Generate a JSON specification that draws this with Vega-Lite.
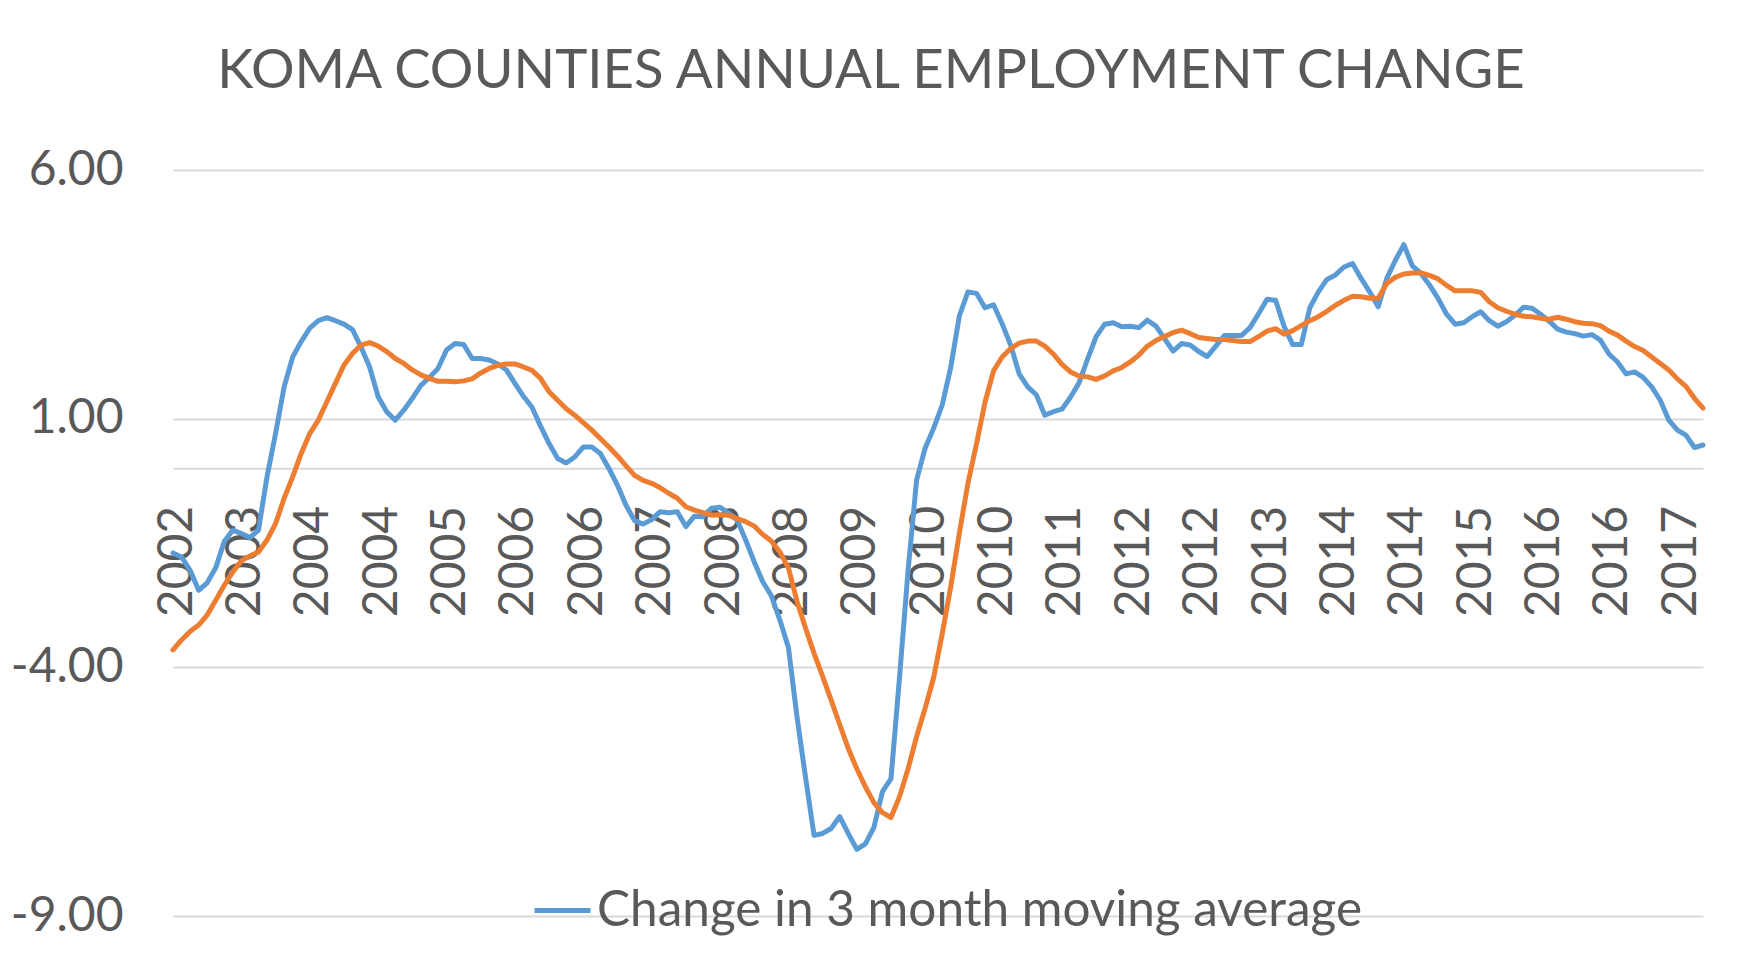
{
  "$schema": "https://vega.github.io/schema/vega-lite/v6.json",
  "width": 1530,
  "height": 746,
  "autosize": {"type": "none"},
  "padding": {"left": 173, "top": 170, "right": 37, "bottom": 46},
  "background": "white",
  "title": {
    "text": "KOMA COUNTIES ANNUAL EMPLOYMENT CHANGE",
    "font": "Lato",
    "fontSize": 54.5,
    "fontWeight": "normal",
    "color": "#595959",
    "anchor": "middle",
    "dx": -67,
    "offset": 4,
    "baseline": "alphabetic"
  },
  "data": {
    "values": [
      {"m": "2002-09", "a": -1.70, "b": -3.65},
      {"m": "2002-10", "a": -1.78, "b": -3.45},
      {"m": "2002-11", "a": -2.05, "b": -3.28},
      {"m": "2002-12", "a": -2.45, "b": -3.15},
      {"m": "2003-01", "a": -2.30, "b": -2.95},
      {"m": "2003-02", "a": -2.00, "b": -2.65},
      {"m": "2003-03", "a": -1.47, "b": -2.35},
      {"m": "2003-04", "a": -1.24, "b": -2.08},
      {"m": "2003-05", "a": -1.31, "b": -1.86},
      {"m": "2003-06", "a": -1.39, "b": -1.76},
      {"m": "2003-07", "a": -1.24, "b": -1.68},
      {"m": "2003-08", "a": -0.17, "b": -1.44},
      {"m": "2003-09", "a": 0.70, "b": -1.11},
      {"m": "2003-10", "a": 1.64, "b": -0.60},
      {"m": "2003-11", "a": 2.24, "b": -0.17},
      {"m": "2003-12", "a": 2.55, "b": 0.30},
      {"m": "2004-01", "a": 2.82, "b": 0.70},
      {"m": "2004-02", "a": 2.97, "b": 0.97},
      {"m": "2004-03", "a": 3.03, "b": 1.34},
      {"m": "2004-04", "a": 2.97, "b": 1.71},
      {"m": "2004-05", "a": 2.90, "b": 2.08},
      {"m": "2004-06", "a": 2.79, "b": 2.31},
      {"m": "2004-07", "a": 2.44, "b": 2.48},
      {"m": "2004-08", "a": 2.04, "b": 2.53},
      {"m": "2004-09", "a": 1.44, "b": 2.46},
      {"m": "2004-10", "a": 1.14, "b": 2.35},
      {"m": "2004-11", "a": 0.97, "b": 2.21},
      {"m": "2004-12", "a": 1.17, "b": 2.11},
      {"m": "2005-01", "a": 1.41, "b": 1.98},
      {"m": "2005-02", "a": 1.67, "b": 1.88},
      {"m": "2005-03", "a": 1.83, "b": 1.81},
      {"m": "2005-04", "a": 2.01, "b": 1.75},
      {"m": "2005-05", "a": 2.38, "b": 1.75},
      {"m": "2005-06", "a": 2.51, "b": 1.74},
      {"m": "2005-07", "a": 2.49, "b": 1.76},
      {"m": "2005-08", "a": 2.21, "b": 1.80},
      {"m": "2005-09", "a": 2.21, "b": 1.92},
      {"m": "2005-10", "a": 2.18, "b": 2.01},
      {"m": "2005-11", "a": 2.10, "b": 2.07},
      {"m": "2005-12", "a": 1.98, "b": 2.10},
      {"m": "2006-01", "a": 1.71, "b": 2.10},
      {"m": "2006-02", "a": 1.45, "b": 2.04},
      {"m": "2006-03", "a": 1.23, "b": 1.97},
      {"m": "2006-04", "a": 0.85, "b": 1.81},
      {"m": "2006-05", "a": 0.50, "b": 1.54},
      {"m": "2006-06", "a": 0.20, "b": 1.37},
      {"m": "2006-07", "a": 0.11, "b": 1.20},
      {"m": "2006-08", "a": 0.23, "b": 1.07},
      {"m": "2006-09", "a": 0.43, "b": 0.92},
      {"m": "2006-10", "a": 0.43, "b": 0.77},
      {"m": "2006-11", "a": 0.30, "b": 0.60},
      {"m": "2006-12", "a": 0.00, "b": 0.43},
      {"m": "2007-01", "a": -0.34, "b": 0.25},
      {"m": "2007-02", "a": -0.74, "b": 0.05},
      {"m": "2007-03", "a": -1.05, "b": -0.14},
      {"m": "2007-04", "a": -1.12, "b": -0.24},
      {"m": "2007-05", "a": -1.03, "b": -0.30},
      {"m": "2007-06", "a": -0.87, "b": -0.39},
      {"m": "2007-07", "a": -0.89, "b": -0.50},
      {"m": "2007-08", "a": -0.87, "b": -0.60},
      {"m": "2007-09", "a": -1.17, "b": -0.77},
      {"m": "2007-10", "a": -0.96, "b": -0.84},
      {"m": "2007-11", "a": -0.97, "b": -0.89},
      {"m": "2007-12", "a": -0.80, "b": -0.94},
      {"m": "2008-01", "a": -0.78, "b": -0.93},
      {"m": "2008-02", "a": -0.90, "b": -0.94},
      {"m": "2008-03", "a": -1.04, "b": -1.01},
      {"m": "2008-04", "a": -1.44, "b": -1.07},
      {"m": "2008-05", "a": -1.88, "b": -1.16},
      {"m": "2008-06", "a": -2.28, "b": -1.33},
      {"m": "2008-07", "a": -2.56, "b": -1.46},
      {"m": "2008-08", "a": -3.05, "b": -1.68},
      {"m": "2008-09", "a": -3.60, "b": -2.00},
      {"m": "2008-10", "a": -4.99, "b": -2.67},
      {"m": "2008-11", "a": -6.21, "b": -3.21},
      {"m": "2008-12", "a": -7.38, "b": -3.72},
      {"m": "2009-01", "a": -7.34, "b": -4.18},
      {"m": "2009-02", "a": -7.24, "b": -4.66},
      {"m": "2009-03", "a": -7.00, "b": -5.15},
      {"m": "2009-04", "a": -7.34, "b": -5.63},
      {"m": "2009-05", "a": -7.66, "b": -6.04},
      {"m": "2009-06", "a": -7.55, "b": -6.40},
      {"m": "2009-07", "a": -7.22, "b": -6.72},
      {"m": "2009-08", "a": -6.50, "b": -6.92},
      {"m": "2009-09", "a": -6.24, "b": -7.02},
      {"m": "2009-10", "a": -4.20, "b": -6.60},
      {"m": "2009-11", "a": -2.05, "b": -6.04},
      {"m": "2009-12", "a": -0.23, "b": -5.39},
      {"m": "2010-01", "a": 0.41, "b": -4.82},
      {"m": "2010-02", "a": 0.81, "b": -4.20},
      {"m": "2010-03", "a": 1.28, "b": -3.32},
      {"m": "2010-04", "a": 2.04, "b": -2.37},
      {"m": "2010-05", "a": 3.07, "b": -1.30},
      {"m": "2010-06", "a": 3.55, "b": -0.30},
      {"m": "2010-07", "a": 3.52, "b": 0.49},
      {"m": "2010-08", "a": 3.23, "b": 1.33},
      {"m": "2010-09", "a": 3.29, "b": 1.96},
      {"m": "2010-10", "a": 2.91, "b": 2.24},
      {"m": "2010-11", "a": 2.48, "b": 2.41},
      {"m": "2010-12", "a": 1.90, "b": 2.52},
      {"m": "2011-01", "a": 1.64, "b": 2.56},
      {"m": "2011-02", "a": 1.48, "b": 2.56},
      {"m": "2011-03", "a": 1.07, "b": 2.46},
      {"m": "2011-04", "a": 1.14, "b": 2.30},
      {"m": "2011-05", "a": 1.19, "b": 2.09},
      {"m": "2011-06", "a": 1.43, "b": 1.94},
      {"m": "2011-07", "a": 1.72, "b": 1.86},
      {"m": "2011-08", "a": 2.20, "b": 1.84},
      {"m": "2011-09", "a": 2.65, "b": 1.79},
      {"m": "2011-10", "a": 2.90, "b": 1.86},
      {"m": "2011-11", "a": 2.93, "b": 1.96},
      {"m": "2011-12", "a": 2.85, "b": 2.03},
      {"m": "2012-01", "a": 2.86, "b": 2.14},
      {"m": "2012-02", "a": 2.83, "b": 2.28},
      {"m": "2012-03", "a": 2.98, "b": 2.46},
      {"m": "2012-04", "a": 2.86, "b": 2.57},
      {"m": "2012-05", "a": 2.61, "b": 2.65},
      {"m": "2012-06", "a": 2.36, "b": 2.73},
      {"m": "2012-07", "a": 2.51, "b": 2.78},
      {"m": "2012-08", "a": 2.48, "b": 2.71},
      {"m": "2012-09", "a": 2.35, "b": 2.63},
      {"m": "2012-10", "a": 2.25, "b": 2.61},
      {"m": "2012-11", "a": 2.46, "b": 2.59},
      {"m": "2012-12", "a": 2.67, "b": 2.59},
      {"m": "2013-01", "a": 2.67, "b": 2.57},
      {"m": "2013-02", "a": 2.67, "b": 2.55},
      {"m": "2013-03", "a": 2.83, "b": 2.55},
      {"m": "2013-04", "a": 3.11, "b": 2.65},
      {"m": "2013-05", "a": 3.40, "b": 2.76},
      {"m": "2013-06", "a": 3.38, "b": 2.81},
      {"m": "2013-07", "a": 2.85, "b": 2.70},
      {"m": "2013-08", "a": 2.49, "b": 2.77},
      {"m": "2013-09", "a": 2.49, "b": 2.87},
      {"m": "2013-10", "a": 3.23, "b": 2.97},
      {"m": "2013-11", "a": 3.55, "b": 3.05},
      {"m": "2013-12", "a": 3.80, "b": 3.16},
      {"m": "2014-01", "a": 3.89, "b": 3.28},
      {"m": "2014-02", "a": 4.05, "b": 3.38},
      {"m": "2014-03", "a": 4.12, "b": 3.46},
      {"m": "2014-04", "a": 3.82, "b": 3.45},
      {"m": "2014-05", "a": 3.55, "b": 3.42},
      {"m": "2014-06", "a": 3.25, "b": 3.42},
      {"m": "2014-07", "a": 3.82, "b": 3.72},
      {"m": "2014-08", "a": 4.18, "b": 3.84},
      {"m": "2014-09", "a": 4.50, "b": 3.91},
      {"m": "2014-10", "a": 4.07, "b": 3.93},
      {"m": "2014-11", "a": 3.92, "b": 3.93},
      {"m": "2014-12", "a": 3.69, "b": 3.88},
      {"m": "2015-01", "a": 3.42, "b": 3.81},
      {"m": "2015-02", "a": 3.10, "b": 3.68},
      {"m": "2015-03", "a": 2.90, "b": 3.57},
      {"m": "2015-04", "a": 2.93, "b": 3.57},
      {"m": "2015-05", "a": 3.05, "b": 3.57},
      {"m": "2015-06", "a": 3.15, "b": 3.54},
      {"m": "2015-07", "a": 2.97, "b": 3.35},
      {"m": "2015-08", "a": 2.86, "b": 3.23},
      {"m": "2015-09", "a": 2.95, "b": 3.16},
      {"m": "2015-10", "a": 3.08, "b": 3.10},
      {"m": "2015-11", "a": 3.24, "b": 3.06},
      {"m": "2015-12", "a": 3.22, "b": 3.05},
      {"m": "2016-01", "a": 3.10, "b": 3.02},
      {"m": "2016-02", "a": 2.96, "b": 3.00},
      {"m": "2016-03", "a": 2.80, "b": 3.04},
      {"m": "2016-04", "a": 2.74, "b": 3.00},
      {"m": "2016-05", "a": 2.71, "b": 2.95},
      {"m": "2016-06", "a": 2.66, "b": 2.92},
      {"m": "2016-07", "a": 2.69, "b": 2.91},
      {"m": "2016-08", "a": 2.58, "b": 2.87},
      {"m": "2016-09", "a": 2.30, "b": 2.76},
      {"m": "2016-10", "a": 2.14, "b": 2.68},
      {"m": "2016-11", "a": 1.90, "b": 2.56},
      {"m": "2016-12", "a": 1.94, "b": 2.45},
      {"m": "2017-01", "a": 1.83, "b": 2.37},
      {"m": "2017-02", "a": 1.64, "b": 2.24},
      {"m": "2017-03", "a": 1.37, "b": 2.11},
      {"m": "2017-04", "a": 0.97, "b": 1.98},
      {"m": "2017-05", "a": 0.77, "b": 1.80},
      {"m": "2017-06", "a": 0.67, "b": 1.65},
      {"m": "2017-07", "a": 0.42, "b": 1.41},
      {"m": "2017-08", "a": 0.47, "b": 1.21}
    ]
  },
  "encoding": {
    "x": {
      "field": "m",
      "type": "ordinal",
      "scale": {"type": "point", "padding": 0},
      "axis": {
        "title": null,
        "values": ["2002-09", "2003-05", "2004-01", "2004-09", "2005-05", "2006-01", "2006-09", "2007-05", "2008-01", "2008-09", "2009-05", "2010-01", "2010-09", "2011-05", "2012-01", "2012-09", "2013-05", "2014-01", "2014-09", "2015-05", "2016-01", "2016-09", "2017-05"],
        "labelExpr": "substring(datum.label, 0, 4)",
        "labelAngle": 270,
        "labelAlign": "right",
        "labelBaseline": "middle",
        "labelPadding": 37,
        "labelOffset": 4,
        "labelOverlap": false,
        "labelFlush": false,
        "labelBound": false,
        "labelFont": "Lato",
        "labelFontSize": 48,
        "labelColor": "#595959",
        "ticks": false,
        "grid": false,
        "domainColor": "#D9D9D9",
        "domainWidth": 2,
        "offset": -447.7
      }
    }
  },
  "layer": [
    {
      "mark": {"type": "line", "strokeWidth": 5, "strokeCap": "round", "strokeJoin": "round"},
      "encoding": {
        "y": {
          "field": "a",
          "type": "quantitative",
          "scale": {"domain": [-9, 6], "nice": false, "zero": false},
          "axis": {
            "title": null,
            "values": [-9, -4, 1, 6],
            "labelExpr": "replace(format(datum.value, '.2f'), '\u2212', '-')",
            "grid": true,
            "gridColor": "#D9D9D9",
            "gridWidth": 2,
            "domain": false,
            "ticks": false,
            "labelPadding": 50,
            "labelFont": "Lato",
            "labelFontSize": 48,
            "labelColor": "#595959"
          }
        },
        "color": {
          "datum": "Change in 3 month moving average",
          "scale": {"range": ["#5B9BD5"]},
          "legend": {
            "title": null,
            "orient": "none",
            "legendX": 359,
            "legendY": 710,
            "padding": 0,
            "symbolType": "stroke",
            "symbolSize": 3136,
            "symbolStrokeWidth": 5,
            "labelFont": "Lato",
            "labelFontSize": 49.5,
            "labelColor": "#595959",
            "labelOffset": 4,
            "labelLimit": 2000
          }
        }
      }
    },
    {
      "mark": {"type": "line", "color": "#ED7D31", "strokeWidth": 5, "strokeCap": "round", "strokeJoin": "round"},
      "encoding": {
        "y": {"field": "b", "type": "quantitative"}
      }
    }
  ],
  "config": {"view": {"stroke": null}, "font": "Lato"}
}
